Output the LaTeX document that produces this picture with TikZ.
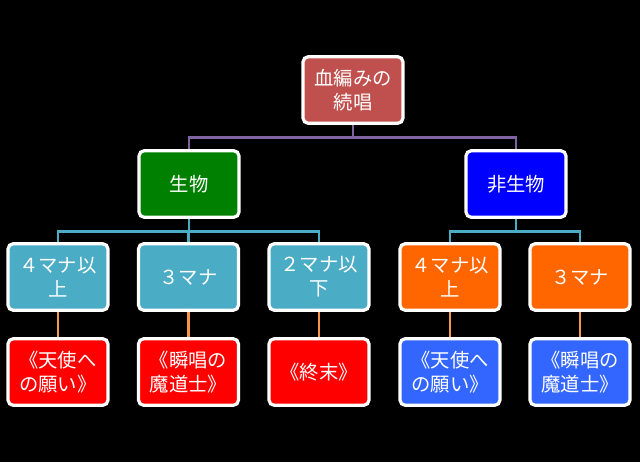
\documentclass[tikz,border=0pt]{standalone}
\usepackage{fontspec}
\newfontfamily\jpfont{Noto Sans CJK JP}
\usetikzlibrary{calc}
\definecolor{rootred}{RGB}{192,80,77}
\definecolor{biogreen}{RGB}{0,128,0}
\definecolor{nonblue}{RGB}{0,0,255}
\definecolor{manateal}{RGB}{75,172,198}
\definecolor{manaorange}{RGB}{255,102,0}
\definecolor{cardred}{RGB}{255,0,0}
\definecolor{cardblue}{RGB}{51,102,255}
\definecolor{linepurple}{RGB}{128,100,162}
\definecolor{lineorange}{RGB}{247,150,70}
\tikzset{
  box/.style={draw=white, line width=2.4pt, rounded corners=4pt, minimum width=75pt, minimum height=50pt, inner sep=1pt, align=center, text=white, font=\jpfont\fontsize{14.5}{18}\selectfont},
  link/.style={line width=2pt}
}

\begin{document}
\begin{tikzpicture}[x=0.75pt, y=-0.75pt]
			%%%%% START %%%%%
			
			\fill[black] (0, 0) rectangle (640, 462);
			\useasboundingbox (0, 0) rectangle (640, 462);
			
			\node[box, fill=rootred] (root) at (353, 90) {血編みの\\続唱};
			
			\node[box, fill=biogreen] (bio) at (189, 184) {生物};
			\node[box, fill=nonblue] (nonbio) at (516, 184) {非生物};
			
			\node[box, fill=manateal] (bfour) at (58, 277) {４マナ以\\上};
			\node[box, fill=manateal] (bthree) at (188.5, 277) {３マナ};
			\node[box, fill=manateal] (btwo) at (319, 277) {２マナ以\\下};
			\node[box, fill=manaorange] (nfour) at (450, 277) {４マナ以\\上};
			\node[box, fill=manaorange] (nthree) at (580, 277) {３マナ};
			
			\node[box, fill=cardred] (angel) at (58, 372) {《天使へ\\の願い》};
			\node[box, fill=cardred] (snap) at (188.5, 372) {《瞬唱の\\魔道士》};
			\node[box, fill=cardred] (endtimes) at (319, 372) {《終末》};
			\node[box, fill=cardblue] (nangel) at (450, 372) {《天使へ\\の願い》};
			\node[box, fill=cardblue] (nsnap) at (580, 372) {《瞬唱の\\魔道士》};
			
			\draw[link, linepurple] (root.south) -- ++(0, 12.5) -| (bio.north);
			\draw[link, linepurple] (root.south) -- ++(0, 12.5) -| (nonbio.north);
			
			\foreach \kid in {bfour, bthree, btwo}
				\draw[link, manateal] (bio.south) -- ++(0, 12.5) -| (\kid.north);
			\foreach \kid in {nfour, nthree}
				\draw[link, manateal] (nonbio.south) -- ++(0, 12.5) -| (\kid.north);
			
			\draw[link, lineorange] (bfour) -- (angel);
			\draw[link, lineorange] (bthree) -- (snap);
			\draw[link, lineorange] (btwo) -- (endtimes);
			\draw[link, lineorange] (nfour) -- (nangel);
			\draw[link, lineorange] (nthree) -- (nsnap);
			
			%%%%% END %%%%%
		\end{tikzpicture}
\end{document}
